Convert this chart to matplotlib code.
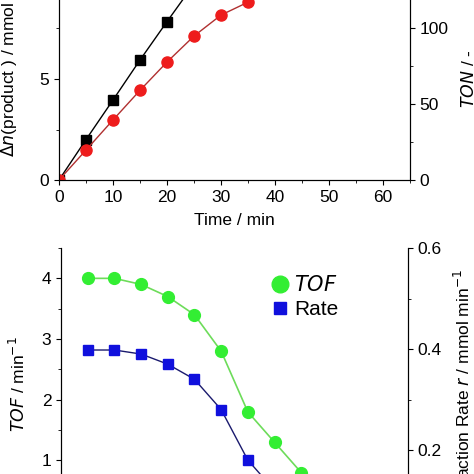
import matplotlib.pyplot as plt
from matplotlib.ticker import MultipleLocator
from matplotlib.lines import Line2D

plt.rcParams['font.family'] = ['Liberation Sans', 'DejaVu Sans']
plt.rcParams['font.size'] = 12.5

# top panel data
t_top = [0, 5, 10, 15, 20, 25, 30]
n_product = [0, 2.0, 3.96, 5.94, 7.84, 9.7, 11.4]
t_ton = [0, 5, 10, 15, 20, 25, 30, 35]
ton = [0, 19.7, 39.5, 59, 77.6, 94.7, 108.5, 117]

# bottom panel data
t_bot = [5, 10, 15, 20, 25, 30, 35, 40, 45, 50]
tof = [4.0, 4.0, 3.9, 3.7, 3.4, 2.8, 1.8, 1.3, 0.8, 0.5]
rate = [0.398, 0.398, 0.39, 0.37, 0.34, 0.28, 0.18, 0.12, 0.09, 0.07]

W = 474.0
fig = plt.figure(figsize=(4.74, 4.74), dpi=100)

# top axes: x 59..410 px, y=0 at 180 px, 20.2 px per unit
ax1 = fig.add_axes([59 / W, (W - 180) / W, 351 / W, 202 / W])
ax1.plot(t_top, n_product, color='black', marker='s', ms=6.5, lw=1)
ax1.set_xlim(0, 65)
ax1.set_ylim(0, 10)
ax1.xaxis.set_major_locator(MultipleLocator(10))
ax1.xaxis.set_minor_locator(MultipleLocator(5))
ax1.yaxis.set_major_locator(MultipleLocator(5))
ax1.yaxis.set_minor_locator(MultipleLocator(2.5))
ax1.set_xlabel('Time / min', labelpad=6)
ax1.set_ylabel(r'$\Delta n$(product ) / mmol', labelpad=8)
ax1t = ax1.twinx()
ax1t.plot(t_ton, ton, color='#b03030', marker='o', ms=8, lw=1,
          mfc='#ee1c1c', mec='#ee1c1c')
ax1t.set_ylim(0, 10 * 20.2 / 1.52)
ax1t.yaxis.set_major_locator(MultipleLocator(50))
ax1t.yaxis.set_minor_locator(MultipleLocator(25))
ax1t.set_ylabel(r'$TON$ / -', labelpad=8)

# bottom axes: top at 248 px, 60.7 px per TOF unit
h2 = 4.5 * 60.7
ax2 = fig.add_axes([61 / W, (W - 248 - h2) / W, 347 / W, h2 / W])
ax2.plot(t_bot, tof, color='#6ddc5a', marker='o', ms=8.5, lw=1.2,
         mfc='#33ee33', mec='#33ee33')
ax2.set_xlim(0, 65)
ax2.set_ylim(0, 4.5)
ax2.yaxis.set_major_locator(MultipleLocator(1))
ax2.yaxis.set_minor_locator(MultipleLocator(0.5))
ax2.set_ylabel(r'$TOF$ / min$^{-1}$', labelpad=10)
ax2.spines['top'].set_visible(False)
ax2t = ax2.twinx()
ax2t.plot(t_bot, rate, color='#1a1a6e', marker='s', ms=7, lw=1,
          mfc='#1010dd', mec='#1010dd')
ax2t.set_ylim(0.6 - h2 / 505, 0.6)
ax2t.yaxis.set_major_locator(MultipleLocator(0.2))
ax2t.yaxis.set_minor_locator(MultipleLocator(0.1))
ax2t.set_ylabel(r'Reaction Rate $r$ / mmol min$^{-1}$', labelpad=8)
ax2t.spines['top'].set_visible(False)

handles = [Line2D([], [], ls='none', marker='o', ms=12, color='#33ee33'),
           Line2D([], [], ls='none', marker='s', ms=8, color='#1010dd')]
ax2.legend(handles, [r'$TOF$', 'Rate'], loc='upper left',
           bbox_to_anchor=(0.54, 0.97), frameon=False, fontsize=15,
           handletextpad=0.1, handlelength=1.2, labelspacing=0.25)

fig.savefig('out.png', dpi=100)
